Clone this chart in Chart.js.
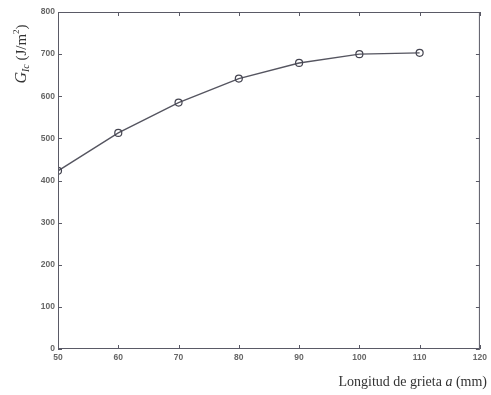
<!DOCTYPE html>
<html>
<head>
<meta charset="utf-8">
<script src="https://cdn.jsdelivr.net/npm/chart.js@4"></script>
<style>
  html, body { margin: 0; padding: 0; background: #fff; }
  #wrap { width: 491px; height: 395px; }
</style>
</head>
<body>
<div id="wrap"><canvas id="c" width="491" height="395"></canvas></div>
<script>
// datos
const longitud = [50, 60, 70, 80, 90, 100, 110];
const gic = [423, 513, 585, 642, 679, 700, 703];
const xTicks = [50, 60, 70, 80, 90, 100, 110, 120];
const yTicks = [0, 100, 200, 300, 400, 500, 600, 700, 800];

const axisColor = "#5a5a66";

// marcas hacia dentro en los cuatro lados + títulos de ejes
const framePlugin = {
  id: "frame",
  afterDraw(chart) {
    const ctx = chart.ctx;
    const a = chart.chartArea;
    const sx = chart.scales.x, sy = chart.scales.y;
    ctx.save();
    ctx.strokeStyle = axisColor;
    ctx.lineWidth = 1;
    ctx.strokeRect(a.left + 0.5, a.top + 0.5, a.right - a.left - 1, a.bottom - a.top - 1);
    ctx.beginPath();
    const L = 4;
    xTicks.forEach(v => {
      const px = Math.round(sx.getPixelForValue(v)) + 0.5;
      ctx.moveTo(px, a.bottom); ctx.lineTo(px, a.bottom - L);
      ctx.moveTo(px, a.top); ctx.lineTo(px, a.top + L);
    });
    yTicks.forEach(v => {
      const py = Math.round(sy.getPixelForValue(v)) + 0.5;
      ctx.moveTo(a.left, py); ctx.lineTo(a.left + L, py);
      ctx.moveTo(a.right, py); ctx.lineTo(a.right - L, py);
    });
    ctx.stroke();

    // título eje x
    ctx.fillStyle = "#333";
    ctx.textBaseline = "alphabetic";
    const f = '14px "Liberation Serif", "DejaVu Serif", serif';
    const fi = 'italic 14px "Liberation Serif", "DejaVu Serif", serif';
    const parts = [["Longitud de grieta ", f], ["a", fi], [" (mm)", f]];
    let w = 0;
    parts.forEach(p => { ctx.font = p[1]; w += ctx.measureText(p[0]).width; });
    let x = 487 - w;
    parts.forEach(p => { ctx.font = p[1]; ctx.fillText(p[0], x, 386); x += ctx.measureText(p[0]).width; });

    // título eje y (rotado)
    const g = '15px "Liberation Serif", "DejaVu Serif", serif';
    const gi = 'italic 16px "Liberation Serif", "DejaVu Serif", serif';
    ctx.translate(26, 54);
    ctx.rotate(-Math.PI / 2);
    const yp = [["G", gi, 0], ["Ic", 'italic 10px "Liberation Serif", serif', 3], [" (J/m", g, 0], ["2", '9px "Liberation Serif", serif', -7], [")", g, 0]];
    w = 0;
    yp.forEach(p => { ctx.font = p[1]; w += ctx.measureText(p[0]).width; });
    x = -w / 2;
    yp.forEach(p => { ctx.font = p[1]; ctx.fillText(p[0], x, p[2]); x += ctx.measureText(p[0]).width; });
    ctx.restore();
  }
};

const tickFont = { family: "Arial, 'Liberation Sans', sans-serif", size: 8.5, weight: "bold" };

new Chart(document.getElementById("c"), {
  type: "line",
  data: {
    datasets: [{
      data: longitud.map((v, i) => ({ x: v, y: gic[i] })),
      borderColor: "#555560",
      borderWidth: 1.4,
      pointRadius: 3.5,
      pointBorderWidth: 1.2,
      pointBackgroundColor: "rgba(0,0,0,0)",
      pointBorderColor: "#444450",
      tension: 0
    }]
  },
  options: {
    responsive: false,
    animation: false,
    layout: { padding: { left: 0, top: 12, right: 7, bottom: 0 } },
    plugins: { legend: { display: false }, tooltip: { enabled: false } },
    scales: {
      x: {
        type: "linear", min: 50, max: 120,
        afterBuildTicks: s => { s.ticks = xTicks.map(v => ({ value: v })); },
        afterFit: s => { s.height = 46; },
        grid: { display: false, drawTicks: false },
        border: { display: false },
        ticks: { padding: 4, color: "#666", font: tickFont, maxRotation: 0 }
      },
      y: {
        type: "linear", min: 0, max: 800,
        afterBuildTicks: s => { s.ticks = yTicks.map(v => ({ value: v })); },
        afterFit: s => { s.width = 58; },
        grid: { display: false, drawTicks: false },
        border: { display: false },
        ticks: { padding: 3, color: "#666", font: tickFont }
      }
    }
  },
  plugins: [framePlugin]
});
</script>
</body>
</html>
